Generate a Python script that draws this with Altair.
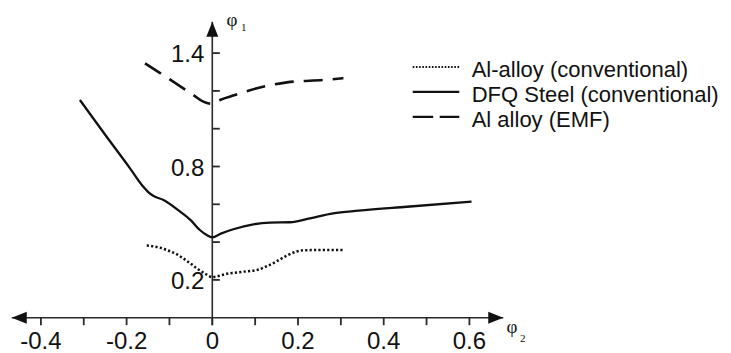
import altair as alt
import pandas as pd

# ---------------- data ----------------
SERIES = ["Al-alloy (conventional)", "DFQ Steel (conventional)", "Al alloy (EMF)"]

AL_CONV_X = [-0.153, -0.125, -0.106, -0.085, -0.068, -0.05, -0.036, -0.018, 0.0,
             0.034, 0.07, 0.104, 0.125, 0.15, 0.175, 0.197, 0.215, 0.26, 0.306]
AL_CONV_Y = [0.382, 0.372, 0.358, 0.338, 0.314, 0.285, 0.261, 0.235, 0.215,
             0.232, 0.243, 0.252, 0.27, 0.298, 0.33, 0.35, 0.357, 0.358, 0.358]

DFQ_X = [-0.309, -0.25, -0.192, -0.162, -0.15, -0.138, -0.114, -0.075, -0.05, -0.029,
         -0.013, 0.0, 0.02, 0.049, 0.096, 0.135, 0.181, 0.228, 0.282, 0.341, 0.454, 0.605]
DFQ_Y = [1.152, 0.968, 0.79, 0.695, 0.666, 0.645, 0.623, 0.561, 0.515, 0.464,
         0.437, 0.425, 0.445, 0.468, 0.494, 0.503, 0.505, 0.526, 0.552, 0.566, 0.587, 0.614]

AL_EMF_X = [-0.157, -0.1, -0.044, -0.021, 0.0, 0.018, 0.053, 0.104, 0.174, 0.259, 0.306]
AL_EMF_Y = [1.346, 1.262, 1.178, 1.143, 1.131, 1.152, 1.178, 1.214, 1.245, 1.258, 1.267]

X_TICKS = [-0.4, -0.3, -0.2, -0.1, 0.0, 0.1, 0.2, 0.3, 0.4, 0.5, 0.6]
X_LABEL_VALUES = [-0.4, -0.2, 0.0, 0.2, 0.4, 0.6]
X_LABEL_TEXT = ["-0.4", "-0.2", "0", "0.2", "0.4", "0.6"]
Y_TICKS = [0.2, 0.4, 0.6, 0.8, 1.0, 1.2, 1.4]
Y_LABEL_VALUES = [0.2, 0.8, 1.4]
Y_LABEL_TEXT = ["0.2", "0.8", "1.4"]

# axis extents (arrow tips)
AXIS_X_LO, AXIS_X_HI = -0.468, 0.679
AXIS_Y_HI = 1.566

# ---------------- layout ----------------
W, H = 715, 345
X0_PX, Y0_PX = 204.3, 309.7      # position of the origin inside the view
PX_X, PX_Y = 428.5, 189.0        # pixels per data unit
XMIN, XMAX = -X0_PX / PX_X, (W - X0_PX) / PX_X
YMIN, YMAX = (Y0_PX - H) / PX_Y, Y0_PX / PX_Y
TICK_PX = 7.5
TICK_X = TICK_PX / PX_Y   # tick length on x axis (data units of y)
TICK_Y = TICK_PX / PX_X   # tick length on y axis (data units of x)

FONT = "Liberation Sans"
INK = "#111111"
AXIS_INK = "#2a2a2a"

xs = alt.Scale(domain=[XMIN, XMAX], nice=False, zero=False)
ys = alt.Scale(domain=[YMIN, YMAX], nice=False, zero=False)


def X(field="x"):
    return alt.X(f"{field}:Q", scale=xs, axis=None)


def Y(field="y"):
    return alt.Y(f"{field}:Q", scale=ys, axis=None)


# ---------------- axes ----------------
x_axis = alt.Chart(pd.DataFrame({"x": [AXIS_X_LO], "x2": [AXIS_X_HI], "y": [0.0]})).mark_rule(
    color=AXIS_INK, strokeWidth=1.6).encode(x=X(), x2="x2:Q", y=Y())
y_axis = alt.Chart(pd.DataFrame({"x": [0.0], "y": [-TICK_X], "y2": [AXIS_Y_HI]})).mark_rule(
    color=AXIS_INK, strokeWidth=1.6).encode(x=X(), y=Y(), y2="y2:Q")

x_ticks = alt.Chart(pd.DataFrame({"x": X_TICKS, "y": [-TICK_X / 2] * len(X_TICKS)})).mark_tick(
    color=AXIS_INK, orient="vertical", size=TICK_PX, thickness=1.8, opacity=1).encode(x=X(), y=Y())
y_ticks = alt.Chart(pd.DataFrame({"x": [TICK_Y / 2] * len(Y_TICKS), "y": Y_TICKS})).mark_tick(
    color=AXIS_INK, orient="horizontal", size=TICK_PX, thickness=1.8, opacity=1).encode(x=X(), y=Y())

x_labels = alt.Chart(pd.DataFrame({"x": X_LABEL_VALUES, "y": [0.0] * len(X_LABEL_VALUES),
                                   "t": X_LABEL_TEXT})).mark_text(
    font=FONT, fontSize=24, color=INK, align="center", baseline="alphabetic", dy=31).encode(
    x=X(), y=Y(), text="t:N")
y_labels = alt.Chart(pd.DataFrame({"x": [0.0] * len(Y_LABEL_VALUES), "y": Y_LABEL_VALUES,
                                   "t": Y_LABEL_TEXT})).mark_text(
    font=FONT, fontSize=24, color=INK, align="right", baseline="alphabetic", dx=-8, dy=9).encode(
    x=X(), y=Y(), text="t:N")

ARROW_R = "M1,0L-1,-0.8L-1,0.8Z"
ARROW_L = "M-1,0L1,-0.8L1,0.8Z"
ARROW_U = "M0,-1L-0.8,1L0.8,1Z"
arrow_r = alt.Chart(pd.DataFrame({"x": [AXIS_X_HI], "y": [0.0]})).mark_point(
    shape=ARROW_R, filled=True, size=225, color=INK, opacity=1, strokeWidth=0, xOffset=-7.5).encode(
    x=X(), y=Y())
arrow_l = alt.Chart(pd.DataFrame({"x": [AXIS_X_LO], "y": [0.0]})).mark_point(
    shape=ARROW_L, filled=True, size=225, color=INK, opacity=1, strokeWidth=0, xOffset=7.5).encode(
    x=X(), y=Y())
arrow_u = alt.Chart(pd.DataFrame({"x": [0.0], "y": [AXIS_Y_HI]})).mark_point(
    shape=ARROW_U, filled=True, size=225, color=INK, opacity=1, strokeWidth=0, yOffset=7.5).encode(
    x=X(), y=Y())

# axis titles phi1 / phi2
phi = pd.DataFrame({"t": ["φ"]})
sub1 = pd.DataFrame({"t": ["1"]})
sub2 = pd.DataFrame({"t": ["2"]})
phi1 = alt.Chart(phi).mark_text(font="Liberation Serif", fontSize=19, color=INK, align="left",
                                baseline="alphabetic").encode(
    x=alt.value(218.5), y=alt.value(18.0), text="t:N")
phi1_sub = alt.Chart(sub1).mark_text(font="Liberation Serif", fontSize=11, color=INK, align="left",
                                     baseline="alphabetic").encode(
    x=alt.value(233.0), y=alt.value(22.7), text="t:N")
phi2 = alt.Chart(phi).mark_text(font="Liberation Serif", fontSize=19, color=INK, align="left",
                                baseline="alphabetic").encode(
    x=alt.value(498.5), y=alt.value(325.2), text="t:N")
phi2_sub = alt.Chart(sub2).mark_text(font="Liberation Serif", fontSize=11, color=INK, align="left",
                                     baseline="alphabetic").encode(
    x=alt.value(512.0), y=alt.value(333.7), text="t:N")

# ---------------- curves ----------------
al_conv = alt.Chart(pd.DataFrame({"x": AL_CONV_X, "y": AL_CONV_Y})).mark_line(
    color=INK, strokeWidth=2.5, strokeDash=[2.2, 2.2], interpolate="monotone").encode(x=X(), y=Y())
dfq = alt.Chart(pd.DataFrame({"x": DFQ_X, "y": DFQ_Y})).mark_line(
    color=INK, strokeWidth=2.3, interpolate="monotone").encode(x=X(), y=Y())
al_emf = alt.Chart(pd.DataFrame({"x": AL_EMF_X, "y": AL_EMF_Y})).mark_line(
    color=INK, strokeWidth=2.6, strokeDash=[19, 10], interpolate="monotone").encode(x=X(), y=Y())

# ---------------- legend ----------------
LEG_X1, LEG_X2, LEG_TX = 404.7, 451.3, 463.7
LEG_ROWS = [68.7, 93.7, 118.7]
LEG_DASH = [[1.6, 1.6], None, [20.5, 6.5]]
LEG_W = [2.0, 2.3, 2.3]
legend_layers = []
for name, base, dash, sw in zip(SERIES, LEG_ROWS, LEG_DASH, LEG_W):
    df = pd.DataFrame({"t": [name]})
    kw = dict(color=INK, strokeWidth=sw)
    if dash is not None:
        kw["strokeDash"] = dash
    legend_layers.append(alt.Chart(df).mark_rule(**kw).encode(
        x=alt.value(LEG_X1), x2=alt.value(LEG_X2), y=alt.value(base - 9.8)))
    legend_layers.append(alt.Chart(df).mark_text(
        font=FONT, fontSize=22, color=INK, align="left", baseline="alphabetic").encode(
        x=alt.value(LEG_TX), y=alt.value(base), text="t:N"))

chart = alt.layer(
    x_axis, y_axis, x_ticks, y_ticks, x_labels, y_labels, arrow_r, arrow_l, arrow_u,
    phi1, phi1_sub, phi2, phi2_sub,
    al_conv, dfq, al_emf, *legend_layers
).properties(
    width=W, height=H, padding=0, autosize="none", background="white"
).configure_view(stroke=None)

chart.save("out.html", embed_options={"renderer": "svg", "actions": False})
